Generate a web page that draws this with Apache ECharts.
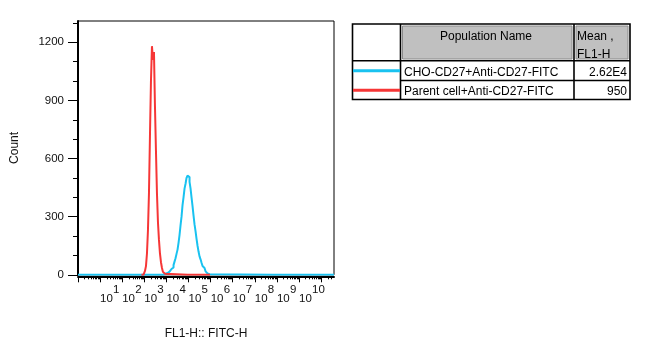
<!DOCTYPE html>
<html><head><meta charset="utf-8">
<script src="https://cdn.jsdelivr.net/npm/echarts@6/dist/echarts.min.js"></script>
<style>html,body{margin:0;padding:0;background:#fff}#c{width:658px;height:356px}</style>
</head><body><div id="c"></div>
<script>
// ---- data ----
const xDecadeLabels = [1, 2, 3, 4, 5, 6, 7, 8, 9, 10];
const xMajorTicks = [0, 1, 2, 3, 4, 5, 6, 7, 8, 9, 10, 11];
const yTickLabels = [0, 300, 600, 900, 1200];
const yMinorTicks = [100, 200, 400, 500, 700, 800, 1000, 1100, 1300];
const seriesNames = ['CHO-CD27+Anti-CD27-FITC', 'Parent cell+Anti-CD27-FITC'];
const meanValues = ['2.62E4', '950'];
const tableHeader = ['Population Name', 'Mean ,', 'FL1-H'];
const xAxisTitle = 'FL1-H:: FITC-H';
const yAxisTitle = 'Count';

// bin centres in log10(FL1-H) and counts
const blueLog10 = [0.000, 3.846, 3.891, 3.937, 3.982, 4.027, 4.072, 4.118, 4.163, 4.208, 4.253, 4.299, 4.344, 4.389, 4.434, 4.480, 4.525, 4.570, 4.615, 4.661, 4.706, 4.751, 4.796, 4.842, 4.887, 4.932, 4.977, 5.023, 5.068, 5.113, 5.158, 5.204, 5.249, 5.294, 5.339, 5.385, 5.430, 5.475, 5.520, 5.566, 5.611, 5.656, 5.701, 5.747, 5.792, 5.837, 5.882, 5.928, 5.973, 11.580];
const blueCount = [0, 0, 2, 4, 6, 9, 12, 16, 20, 24, 30, 38, 50, 68, 85, 108, 130, 165, 205, 255, 300, 360, 400, 445, 470, 500, 512, 505, 480, 446, 400, 355, 305, 260, 225, 185, 150, 120, 95, 80, 62, 45, 35, 26, 18, 12, 7, 3, 0, 0];
const redLog10 = [2.870, 2.961, 3.006, 3.052, 3.097, 3.142, 3.187, 3.233, 3.278, 3.323, 3.368, 3.414, 3.459, 3.504, 3.549, 3.595, 3.640, 3.685, 3.730, 3.776, 3.821, 3.866, 3.911, 3.957, 5.970];
const redCount = [0, 0, 6, 20, 45, 110, 230, 420, 720, 1000, 1180, 1110, 1150, 870, 640, 420, 270, 180, 110, 65, 35, 15, 5, 0, 0];

// ---- build ----
const FONT = '"Liberation Sans", Arial, sans-serif';
const xMinorTicks = [];
for (const d of xMajorTicks) for (let k = 2; k <= 9; k++) { const v = d + Math.log10(k); if (v < 11.58) xMinorTicks.push(v); }
const pair = (xs, ys) => xs.map((x, i) => [x, ys[i]]);

const txt = (text, x, y, align) => ({
  type: 'text', silent: true,
  style: { text, x, y, fill: '#000', font: '12px ' + FONT, textAlign: align, align, textVerticalAlign: 'middle', verticalAlign: 'middle' }
});
const ln = (x1, y1, x2, y2, color, w) => ({ type: 'line', silent: true, shape: { x1, y1, x2, y2 }, style: { stroke: color, lineWidth: w } });

const BLUE = '#19c2f0', RED = '#f63636';
const graphic = [
  { type: 'rect', silent: true, shape: { x: 402.5, y: 26, width: 169.5, height: 33 }, style: { fill: '#c0c0c0', stroke: '#8a8a8a', lineWidth: 1 } },
  { type: 'rect', silent: true, shape: { x: 576, y: 26, width: 52, height: 33 }, style: { fill: '#c0c0c0', stroke: '#8a8a8a', lineWidth: 1 } },
  { type: 'rect', silent: true, shape: { x: 352.5, y: 24, width: 277.5, height: 75.5 }, style: { fill: 'none', stroke: '#000', lineWidth: 1.6 } },
  ln(400.5, 24, 400.5, 99.5, '#000', 1.6),
  ln(574, 24, 574, 99.5, '#000', 1.6),
  ln(352.5, 60.7, 630, 60.7, '#000', 1.6),
  ln(400.5, 80.5, 630, 80.5, '#000', 1.6),
  ln(353, 70.7, 400, 70.7, BLUE, 3),
  ln(353, 90.3, 400, 90.3, RED, 3),
  txt(tableHeader[0], 486, 36.5, 'center'),
  txt(tableHeader[1], 577, 36.5, 'left'),
  txt(tableHeader[2], 577, 54.5, 'left'),
  txt(seriesNames[0], 404, 72.5, 'left'),
  txt(meanValues[0], 627, 72.5, 'right'),
  txt(seriesNames[1], 404, 92, 'left'),
  txt(meanValues[1], 627, 92, 'right')
];

const chart = echarts.init(document.getElementById('c'), null, { renderer: 'canvas' });
chart.setOption({
  animation: false,
  backgroundColor: '#fff',
  grid: { left: 78, right: 324, top: 21, bottom: 81.2, show: true, borderColor: '#000', borderWidth: 1, containLabel: false, outerBoundsMode: 'none' },
  xAxis: [
    {
      type: 'value', min: 0, max: 11.58, position: 'bottom', offset: 1.5,
      axisLine: { show: true, onZero: false, lineStyle: { color: '#000', width: 2 } },
      axisTick: { show: true, customValues: xMinorTicks, length: 3, lineStyle: { color: '#000', width: 1 } },
      axisLabel: { show: true, customValues: xDecadeLabels, formatter: () => '10', align: 'left', margin: 17, fontSize: 11.5, lineHeight: 11, color: '#111', fontFamily: FONT },
      splitLine: { show: false },
      name: xAxisTitle, nameLocation: 'middle', nameGap: 51,
      nameTextStyle: { fontSize: 12, color: '#111', fontFamily: FONT }
    },
    {
      type: 'value', min: 0, max: 11.58, position: 'bottom', offset: 1.5,
      axisLine: { show: false, onZero: false },
      axisTick: { show: true, customValues: xMajorTicks, length: 6, lineStyle: { color: '#000', width: 1 } },
      axisLabel: { show: true, customValues: xDecadeLabels, formatter: v => String(Math.round(v)), align: 'left', padding: [0, 0, 0, 13], margin: 8, fontSize: 11.5, lineHeight: 11, color: '#111', fontFamily: FONT },
      splitLine: { show: false }
    }
  ],
  yAxis: [
    {
      type: 'value', min: 0, max: 1310, position: 'left',
      axisLine: { show: true, onZero: false, lineStyle: { color: '#000', width: 2 } },
      axisTick: { show: true, customValues: yTickLabels, length: 10, lineStyle: { color: '#000', width: 1 } },
      axisLabel: { show: true, customValues: yTickLabels, formatter: v => String(Math.round(v)), margin: 14, fontSize: 11.5, color: '#111', fontFamily: FONT },
      splitLine: { show: false },
      name: yAxisTitle, nameLocation: 'middle', nameGap: 57, nameRotate: 90,
      nameTextStyle: { fontSize: 12, color: '#111', fontFamily: FONT }
    },
    {
      type: 'value', min: 0, max: 1310, position: 'left',
      axisLine: { show: false, onZero: false },
      axisTick: { show: true, customValues: yMinorTicks, length: 5, lineStyle: { color: '#000', width: 1 } },
      axisLabel: { show: false },
      splitLine: { show: false }
    }
  ],
  series: [
    { name: seriesNames[0], type: 'line', step: 'middle', showSymbol: false, data: pair(blueLog10, blueCount), lineStyle: { color: BLUE, width: 2 }, itemStyle: { color: BLUE }, z: 3 },
    { name: seriesNames[1], type: 'line', step: 'middle', showSymbol: false, data: pair(redLog10, redCount), lineStyle: { color: RED, width: 2 }, itemStyle: { color: RED }, z: 4 }
  ],
  graphic
});
</script>
</body></html>
